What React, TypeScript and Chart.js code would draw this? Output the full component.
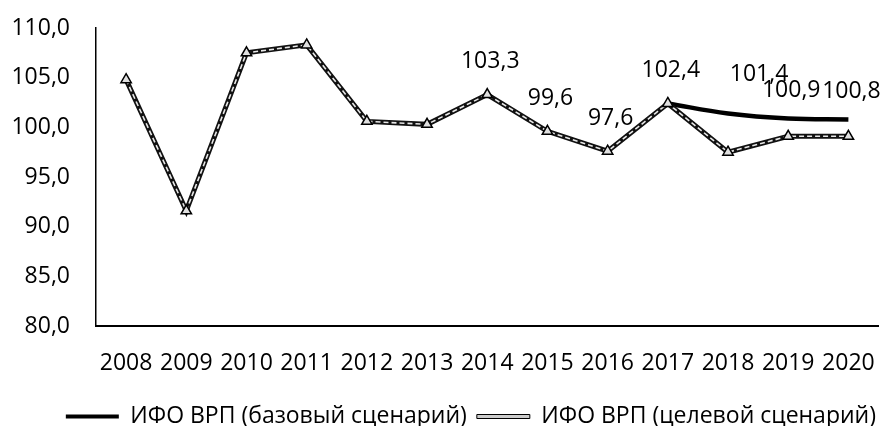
import React, { useEffect, useRef } from "react";
import { Chart, registerables } from "chart.js";

Chart.register(...registerables);

const years = ["2008", "2009", "2010", "2011", "2012", "2013", "2014", "2015", "2016", "2017", "2018", "2019", "2020"];
const baseScenario = [null, null, null, null, null, null, null, null, null, 102.4, 101.4, 100.9, 100.8];
const targetScenario = [104.8, 91.6, 107.5, 108.3, 100.6, 100.3, 103.3, 99.6, 97.6, 102.4, 97.5, 99.1, 99.1];
const labelValues = [null, null, null, null, null, null, 103.3, 99.6, 97.6, 102.4, 101.4, 100.9, 100.8];
const seriesNames = ["ИФО ВРП (базовый сценарий)", "ИФО ВРП (целевой сценарий)"];
const yMin = 80;
const yMax = 110;
const yStep = 5;

const FONT = "'Open Sans', 'Noto Sans', sans-serif";
const fmt = (v: number) => v.toFixed(1).replace(".", ",");

const valueLabels = {
  id: "valueLabels",
  afterDatasetsDraw(chart: any) {
    const { ctx, scales } = chart;
    ctx.save();
    ctx.font = `23px ${FONT}`;
    ctx.fillStyle = "#000";
    ctx.textAlign = "center";
    ctx.textBaseline = "middle";
    labelValues.forEach((v, i) => {
      if (v == null) return;
      const x = scales.x.getPixelForValue(i);
      const y = scales.y.getPixelForValue(v);
      const dx = i === 10 ? 31 : 3;
      const dy = i === 10 ? 39 : i >= 11 ? 28 : 33;
      ctx.fillText(fmt(v), x + dx, y - dy);
    });
    ctx.restore();
  },
};

export default function App() {
  const ref = useRef<HTMLCanvasElement>(null);
  useEffect(() => {
    const chart = new Chart(ref.current as HTMLCanvasElement, {
      type: "line",
      data: {
        labels: years,
        datasets: [
          {
            label: seriesNames[0],
            data: baseScenario,
            borderColor: "#000",
            backgroundColor: "#000",
            borderWidth: 4.5,
            tension: 0.4,
            pointRadius: 0,
            spanGaps: false,
            order: 3,
          },
          {
            label: seriesNames[1],
            data: targetScenario,
            borderColor: "#111",
            backgroundColor: "#bbb",
            borderWidth: 5,
            tension: 0,
            pointRadius: 0,
            order: 2,
          },
          {
            label: "overlay",
            data: targetScenario,
            borderColor: "#e8e8e8",
            borderWidth: 1.6,
            borderDash: [5, 3],
            tension: 0,
            pointStyle: "triangle",
            pointRadius: 6,
            pointBackgroundColor: "#e0e0e0",
            pointBorderColor: "#000",
            pointBorderWidth: 1.5,
            order: 1,
          },
        ],
      },
      options: {
        animation: false,
        responsive: true,
        maintainAspectRatio: false,
        layout: { padding: { top: 28, right: 0, bottom: 0, left: 0 } },
        scales: {
          x: {
            offset: true,
            grid: {
              display: true,
              drawOnChartArea: false,
              drawTicks: true,
              tickLength: 24,
              color: "rgba(0,0,0,0)",
            },
            border: { display: true, color: "#000", width: 2 },
            ticks: {
              color: "#000",
              font: { size: 23, family: FONT },
              padding: 0,
              maxRotation: 0,
              autoSkip: false,
            },
            afterFit: (s: any) => {
              s.height = 69;
            },
          },
          y: {
            min: yMin,
            max: yMax,
            grid: {
              display: true,
              drawOnChartArea: false,
              drawTicks: true,
              tickLength: 26,
              color: "rgba(0,0,0,0)",
            },
            border: { display: true, color: "#000", width: 1.5 },
            ticks: {
              stepSize: yStep,
              color: "#000",
              font: { size: 23, family: FONT },
              padding: 0,
              callback: (v: any) => fmt(Number(v)),
            },
            afterFit: (s: any) => {
              s.width = 96;
            },
          },
        },
        plugins: {
          tooltip: { enabled: false },
          legend: {
            position: "bottom",
            align: "end",
            labels: {
              color: "#000",
              font: { size: 23, family: FONT },
              boxWidth: 53,
              boxHeight: 4,
              padding: 10,
              generateLabels: () => [
                {
                  text: seriesNames[0],
                  fillStyle: "#000",
                  strokeStyle: "#000",
                  lineWidth: 0,
                  datasetIndex: 0,
                  hidden: false,
                  fontColor: "#000",
                },
                {
                  text: seriesNames[1],
                  fillStyle: "#ccc",
                  strokeStyle: "#000",
                  lineWidth: 1,
                  datasetIndex: 1,
                  hidden: false,
                  fontColor: "#000",
                },
              ],
            },
          },
        },
      },
      plugins: [valueLabels],
    } as any);
    return () => chart.destroy();
  }, []);
  return (
    <div style={{ position: "absolute", left: 0, top: 0, width: 886, height: 426, overflow: "hidden" }}>
      <div style={{ position: "relative", width: 886, height: 438 }}>
        <canvas ref={ref} />
      </div>
    </div>
  );
}
